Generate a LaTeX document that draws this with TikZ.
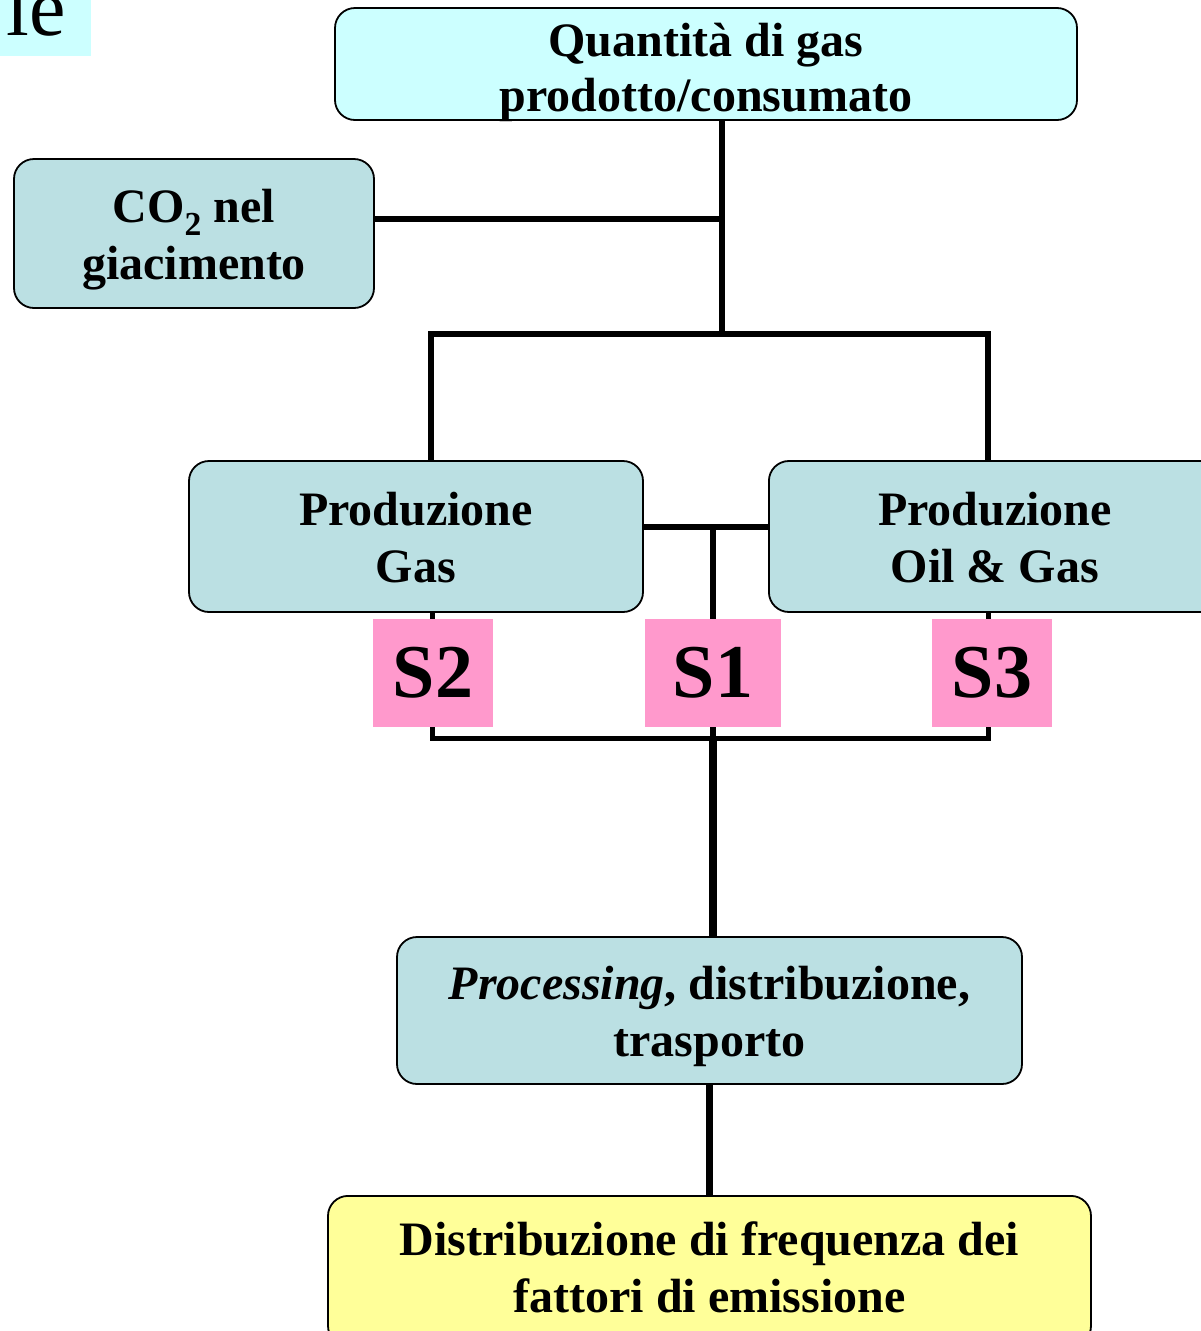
\documentclass[tikz,border=0pt]{standalone}
\usepackage{fontspec}
\setmainfont{Liberation Serif}
\definecolor{cyanbox}{HTML}{CCFFFF}
\definecolor{tealbox}{HTML}{BBE0E3}
\definecolor{pinkbox}{HTML}{FF99CC}
\definecolor{yellowbox}{HTML}{FFFF99}
% #1: raise of the last baseline relative to the box centre, #2: lines
\newcommand{\btext}[2]{\raisebox{#1}[0pt][0pt]{\begin{tabular}[b]{@{}c@{}}#2\end{tabular}}}
\begin{document}
\begin{tikzpicture}[x=1pt,y=-1pt,
  box/.style={draw=black, line width=1.8pt, rounded corners=20pt, inner sep=0pt,
    font=\fontsize{48}{57}\selectfont\bfseries},
  sbox/.style={fill=pinkbox, inner sep=0pt, font=\fontsize{76}{80}\selectfont\bfseries},
  conn/.style={line width=6.5pt},
  thinconn/.style={line width=5pt},
  heavyconn/.style={line width=8pt}]
\useasboundingbox (0,0) rectangle (1200,1331);
% top-left fragment
\fill[cyanbox] (0,0) rectangle (91,56);
\node[anchor=base east, inner sep=0pt, font=\fontsize{82}{82}\selectfont] (frag) at (66,35) {le};
% boxes
\node[box, fill=cyanbox, minimum width=742pt, minimum height=112pt, font=\fontsize{48}{55}\selectfont\bfseries] (top) at (706,64) {\btext{-47pt}{Quantità di gas\\prodotto/consumato}};
\node[box, fill=tealbox, minimum width=360pt, minimum height=149pt] (co2) at (194,233.5) {\btext{-45.5pt}{CO$_{\mathbf 2}$ nel\\giacimento}};
\node[box, fill=tealbox, minimum width=454pt, minimum height=151pt] (pg) at (416,536.5) {\btext{-45.5pt}{Produzione\\Gas}};
\node[box, fill=tealbox, minimum width=452pt, minimum height=151pt, anchor=west] (pog) at (768,536.5) {\btext{-45.5pt}{Produzione\\Oil \& Gas}};
\node[box, fill=tealbox, minimum width=625pt, minimum height=147pt] (proc) at (709.5,1010.5) {\btext{-45.5pt}{\textit{Processing}, distribuzione,\\trasporto}};
\node[box, fill=yellowbox, minimum width=763pt, minimum height=150pt, anchor=north] (dist) at (709.5,1195) {\btext{-41.5pt}{Distribuzione di frequenza dei\\fattori di emissione}};
% junction coordinates
\coordinate (j1) at (722,219);
\coordinate (j2) at (722,334);
\coordinate (jl) at (431,334);
\coordinate (jr) at (988,334);
\coordinate (jm) at (713,527);
\coordinate (bl) at (432,738);
\coordinate (bm) at (713,738);
\coordinate (br) at (988,738);
% connectors (behind S boxes)
\draw[conn] (top.south -| j1) -- (j2);
\draw[conn] (co2.east |- j1) -- (j1);
\draw[conn] (jl |- pg.north) -- (jl) -- (jr) -- (jr |- pog.north);
\draw[conn] (pg.east |- jm) -- (pog.west |- jm);
\draw[conn] (jm) -- (bm);
\draw[thinconn] (pg.south -| bl) -- (bl) -- (br) -- (br |- pog.south);
\draw[heavyconn] (bm) -- (proc.north -| bm);
\draw[conn] (proc.south) -- (dist.north);
% S boxes
\node[sbox, minimum width=120pt, minimum height=108pt] (s2) at (433,673) {S2};
\node[sbox, minimum width=136pt, minimum height=108pt] (s1) at (713,673) {S1};
\node[sbox, minimum width=120pt, minimum height=108pt] (s3) at (992,673) {S3};
\end{tikzpicture}
\end{document}
